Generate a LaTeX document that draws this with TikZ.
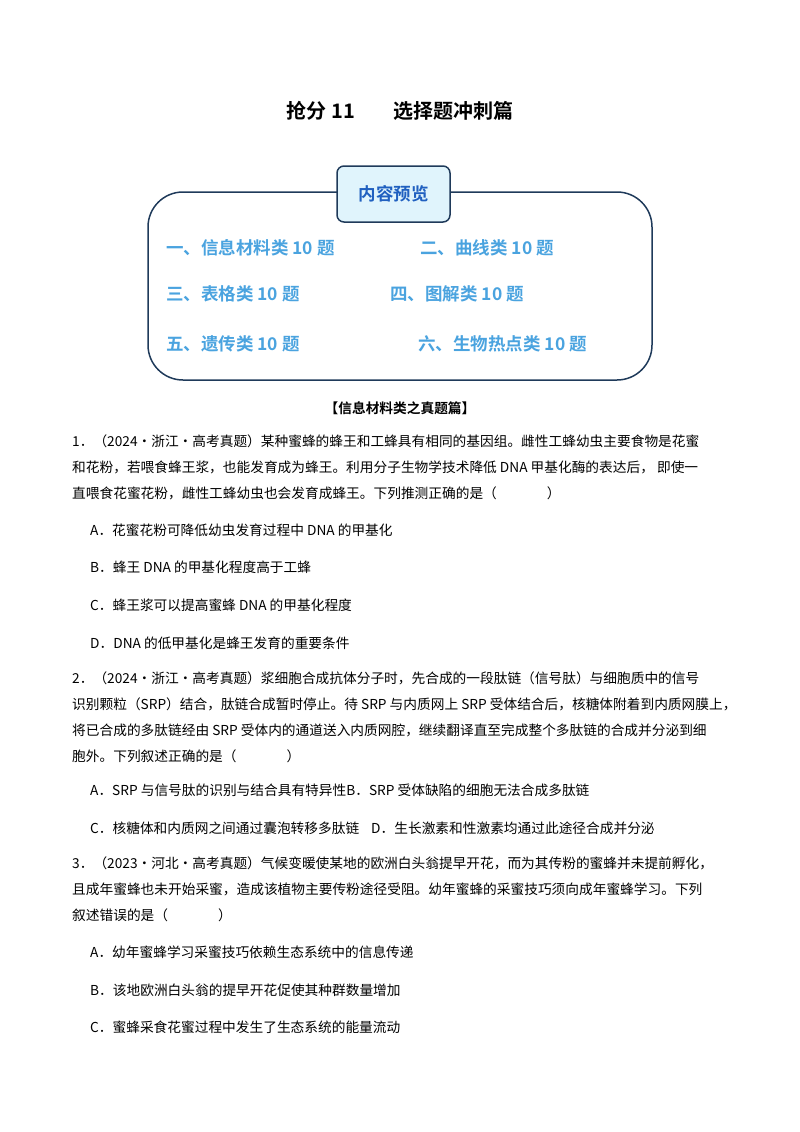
\documentclass[tikz,border=0pt]{standalone}
\usepackage{fontspec}
\setmainfont{Noto Sans CJK SC}
\newfontfamily\cjkb{Noto Sans CJK SC Bold}
\definecolor{itemblue}{HTML}{4AA3DF}
\definecolor{tabblue}{HTML}{2060C0}
\definecolor{tabfill}{HTML}{E0F4FC}
\definecolor{frame}{HTML}{1F3A5A}
\begin{document}
\begin{tikzpicture}[x=1pt,y=-1pt,
  body/.style={anchor=west,inner sep=0pt,font=\fontsize{13.7}{14}\selectfont},
  item/.style={anchor=west,inner sep=0pt,text=itemblue,font=\cjkb\fontsize{17.5}{18}\selectfont}]
\useasboundingbox (0,0) rectangle (800,1132);
\node[inner sep=0pt,font=\cjkb\fontsize{20}{21}\selectfont] (title) at (400,111) {抢分 11\hspace{38pt}选择题冲刺篇};
\draw[frame,line width=1.5pt,rounded corners=35pt] (148,192) rectangle (652,380);
\node[draw=frame,line width=1.5pt,fill=tabfill,rounded corners=7pt,minimum width=113pt,minimum height=56pt,text=tabblue,font=\cjkb\fontsize{17.5}{18}\selectfont] (tab) at (393.5,194) {内容预览};
\node[item] (i1) at (166,248) {一、信息材料类 10 题};
\node[item] (i2) at (420,248) {二、曲线类 10 题};
\node[item] (i3) at (166,294) {三、表格类 10 题};
\node[item] (i4) at (390,294) {四、图解类 10 题};
\node[item] (i5) at (166,344) {五、遗传类 10 题};
\node[item] (i6) at (418,344) {六、生物热点类 10 题};
\node[inner sep=0pt,font=\cjkb\fontsize{13.7}{14}\selectfont] (sec) at (400,408) {【信息材料类之真题篇】};
\node[body] (q1a) at (72,441) {1．（2024·浙江·高考真题）某种蜜蜂的蜂王和工蜂具有相同的基因组。雌性工蜂幼虫主要食物是花蜜};
\node[body] (q1b) at (72,467) {和花粉，若喂食蜂王浆，也能发育成为蜂王。利用分子生物学技术降低 DNA 甲基化酶的表达后， 即使一};
\node[body] (q1c) at (72,493) {直喂食花蜜花粉，雌性工蜂幼虫也会发育成蜂王。下列推测正确的是（\hspace{50pt}）};
\node[body] (q1A) at (90,530) {A．花蜜花粉可降低幼虫发育过程中 DNA 的甲基化};
\node[body] (q1B) at (90,567) {B．蜂王 DNA 的甲基化程度高于工蜂};
\node[body] (q1C) at (90,605) {C．蜂王浆可以提高蜜蜂 DNA 的甲基化程度};
\node[body] (q1D) at (90,643) {D．DNA 的低甲基化是蜂王发育的重要条件};
\node[body] (q2a) at (72,678) {2．（2024·浙江·高考真题）浆细胞合成抗体分子时，先合成的一段肽链（信号肽）与细胞质中的信号};
\node[body] (q2b) at (72,704) {识别颗粒（SRP）结合，肽链合成暂时停止。待 SRP 与内质网上 SRP 受体结合后，核糖体附着到内质网膜上，};
\node[body] (q2c) at (72,730) {将已合成的多肽链经由 SRP 受体内的通道送入内质网腔，继续翻译直至完成整个多肽链的合成并分泌到细};
\node[body] (q2d) at (72,756) {胞外。下列叙述正确的是（\hspace{50pt}）};
\node[body] (q2AB) at (90,790) {A．SRP 与信号肽的识别与结合具有特异性B．SRP 受体缺陷的细胞无法合成多肽链};
\node[body] (q2CD) at (90,828) {C．核糖体和内质网之间通过囊泡转移多肽链\hspace{12pt}D．生长激素和性激素均通过此途径合成并分泌};
\node[body] (q3a) at (72,863) {3．（2023·河北·高考真题）气候变暖使某地的欧洲白头翁提早开花，而为其传粉的蜜蜂并未提前孵化，};
\node[body] (q3b) at (72,889) {且成年蜜蜂也未开始采蜜，造成该植物主要传粉途径受阻。幼年蜜蜂的采蜜技巧须向成年蜜蜂学习。下列};
\node[body] (q3c) at (72,915) {叙述错误的是（\hspace{50pt}）};
\node[body] (q3A) at (90,952) {A．幼年蜜蜂学习采蜜技巧依赖生态系统中的信息传递};
\node[body] (q3B) at (90,990) {B．该地欧洲白头翁的提早开花促使其种群数量增加};
\node[body] (q3C) at (90,1027) {C．蜜蜂采食花蜜过程中发生了生态系统的能量流动};
\end{tikzpicture}
\end{document}
